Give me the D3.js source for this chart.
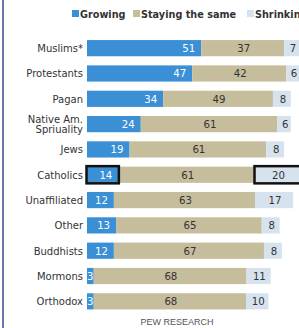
<!DOCTYPE html>
<html>
<head>
<meta charset="utf-8">
<script src="https://cdn.jsdelivr.net/npm/d3@7"></script>
<style>
body { margin: 0; background: #fff; overflow: hidden; }
svg { display: block; font-family: "DejaVu Sans", Verdana, sans-serif; }
</style>
</head>
<body>
<svg></svg>
<script>
const groups = ["Muslims*", "Protestants", "Pagan", "Native Am.|Spriuality", "Jews", "Catholics", "Unaffiliated", "Other", "Buddhists", "Mormons", "Orthodox"];
const growing = [51, 47, 34, 24, 19, 14, 12, 13, 12, 3, 3];
const same = [37, 42, 49, 61, 61, 61, 63, 65, 67, 68, 68];
const shrinking = [7, 6, 8, 6, 8, 20, 17, 8, 8, 11, 10];
const seriesNames = ["Growing", "Staying the same", "Shrinking"];
const highlighted = "Catholics";

const colors = ["#3a8fd5", "#c6bd9c", "#d6e3ee"];
const textColors = ["#fff", "#333", "#333"];

const svg = d3.select("svg").attr("width", 299).attr("height", 328);

const x = d3.scaleLinear().domain([0, 100]).range([87, 311]);
const y = d3.scaleBand().domain(groups).range([35.5, 314]).paddingInner(0.36).paddingOuter(0.18);

// left rule
svg.append("line")
	.attr("x1", 3).attr("x2", 3).attr("y1", 0).attr("y2", 328)
	.attr("stroke", "#3b4a8c").attr("stroke-width", 1.5);

// legend
const legendX = [72, 133, 247];
const legend = svg.append("g").attr("class", "legend");
seriesNames.forEach((name, i) => {
	legend.append("rect")
		.attr("x", legendX[i]).attr("y", 10)
		.attr("width", 7).attr("height", 7)
		.attr("fill", colors[i]);
	legend.append("text")
		.attr("x", legendX[i] + 8).attr("y", 17.5)
		.attr("font-size", 9.7).attr("font-weight", "bold")
		.attr("fill", "#333")
		.text(name);
});

const rows = groups.map((g, i) => {
	const vals = [growing[i], same[i], shrinking[i]];
	let acc = 0;
	const segs = vals.map((v, k) => {
		const s = { key: k, value: v, x0: acc, x1: acc + v, group: g };
		acc += v;
		return s;
	});
	return { group: g, segs };
});

const rowG = svg.append("g").selectAll("g").data(rows).join("g")
	.attr("transform", (d) => `translate(0,${y(d.group)})`);

// category labels
rowG.append("text")
	.attr("text-anchor", "end")
	.attr("x", 83)
	.attr("font-size", 10)
	.attr("fill", "#333")
	.each(function (d) {
		const parts = d.group.split("|");
		const t = d3.select(this);
		const mid = y.bandwidth() / 2;
		parts.forEach((p, j) => {
			t.append("tspan")
				.attr("x", 83)
				.attr("y", mid + 4 + (j - (parts.length - 1) / 2) * 10.5)
				.text(p);
		});
	});

rowG.selectAll("rect.seg").data((d) => d.segs).join("rect")
	.attr("class", "seg")
	.attr("x", (d) => x(d.x0))
	.attr("width", (d) => x(d.x1) - x(d.x0))
	.attr("height", y.bandwidth())
	.attr("fill", (d) => colors[d.key]);

// outline on highlighted row
rowG.filter((d) => d.group === highlighted)
	.selectAll("rect.hl").data((d) => d.segs.filter((s) => s.key !== 1)).join("rect")
	.attr("class", "hl")
	.attr("x", (d) => x(d.x0) - 0.5)
	.attr("y", -0.5)
	.attr("width", (d) => x(d.x1) - x(d.x0) + 1)
	.attr("height", y.bandwidth() + 1)
	.attr("fill", "none")
	.attr("stroke", "#111")
	.attr("stroke-width", 2.5);

rowG.selectAll("text.val").data((d) => d.segs).join("text")
	.attr("class", "val")
	.attr("font-size", 10.2)
	.attr("y", y.bandwidth() / 2 + 4)
	.attr("fill", (d) => textColors[d.key])
	.attr("text-anchor", (d) => {
		if (d.key === 0) return x(d.x1) - x(d.x0) < 20 ? "start" : "end";
		return "middle";
	})
	.attr("x", (d) => {
		const w = x(d.x1) - x(d.x0);
		if (d.key === 0) return w < 20 ? x(d.x0) : x(d.x1) - 6;
		return (x(d.x0) + x(d.x1)) / 2 + 1;
	})
	.text((d) => d.value);

svg.append("text")
	.attr("x", 177).attr("y", 325)
	.attr("text-anchor", "middle")
	.attr("font-family", "Liberation Sans, Arial, sans-serif")
	.attr("font-size", 9)
	.attr("fill", "#555")
	.text("PEW RESEARCH");
</script>
</body>
</html>
